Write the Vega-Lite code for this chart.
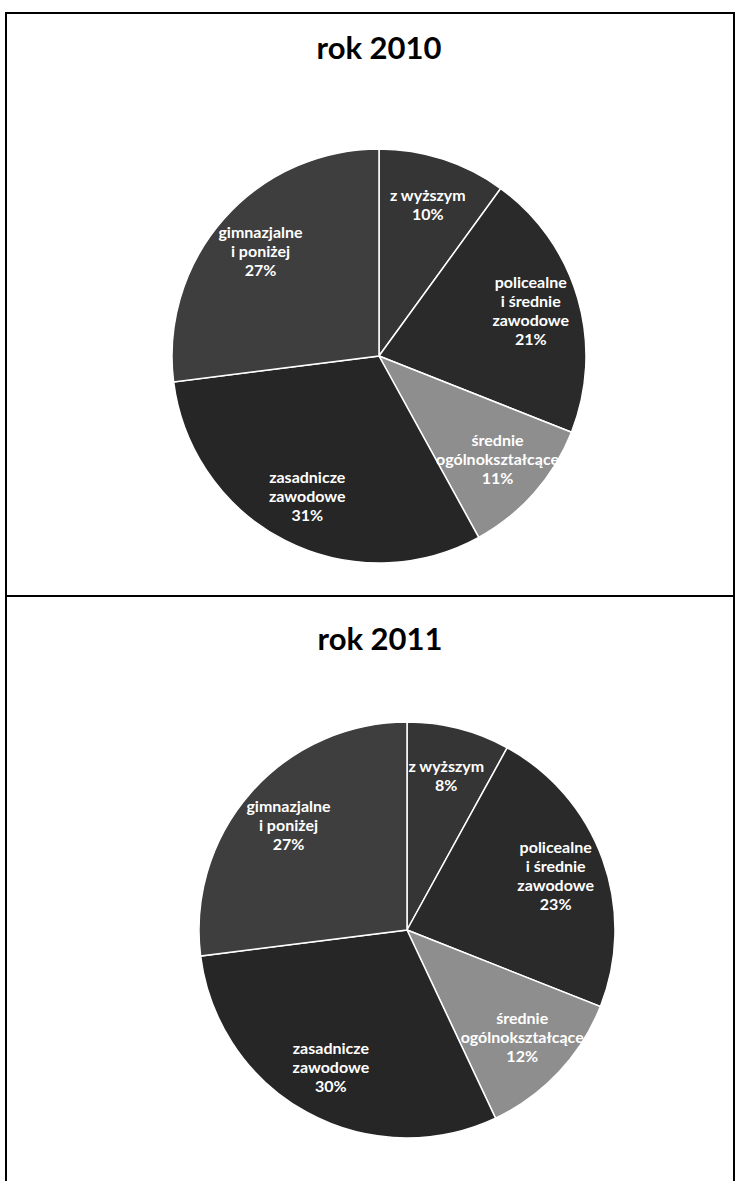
{
  "$schema": "https://vega.github.io/schema/vega-lite/v6.json",
  "padding": {"left": 5, "top": 12, "right": 3, "bottom": 0},
  "background": "white",
  "spacing": 0,
  "bounds": "flush",
  "datasets": {
    "d2010": [
      {"rank": 1, "category": "z wyższym", "share": 10, "label": "z wyższym\n10%"},
      {"rank": 2, "category": "policealne i średnie zawodowe", "share": 21, "label": "policealne\ni średnie\nzawodowe\n21%"},
      {"rank": 3, "category": "średnie ogólnokształcące", "share": 11, "label": "średnie\nogólnokształcące\n11%"},
      {"rank": 4, "category": "zasadnicze zawodowe", "share": 31, "label": "zasadnicze\nzawodowe\n31%"},
      {"rank": 5, "category": "gimnazjalne i poniżej", "share": 27, "label": "gimnazjalne\ni poniżej\n27%"}
    ],
    "d2011": [
      {"rank": 1, "category": "z wyższym", "share": 8, "label": "z wyższym\n8%"},
      {"rank": 2, "category": "policealne i średnie zawodowe", "share": 23, "label": "policealne\ni średnie\nzawodowe\n23%"},
      {"rank": 3, "category": "średnie ogólnokształcące", "share": 12, "label": "średnie\nogólnokształcące\n12%"},
      {"rank": 4, "category": "zasadnicze zawodowe", "share": 30, "label": "zasadnicze\nzawodowe\n30%"},
      {"rank": 5, "category": "gimnazjalne i poniżej", "share": 27, "label": "gimnazjalne\ni poniżej\n27%"}
    ]
  },
  "vconcat": [
    {
      "width": 728,
      "height": 583,
      "title": {"text": "rok 2010", "offset": -53, "dx": 9, "anchor": "middle", "font": "Lato", "fontSize": 31, "fontWeight": "bold", "color": "#000"},
      "data": {"name": "d2010"},
      "layer": [
        {"mark": {"type": "point", "opacity": 0},
         "encoding": {"x": {"field": "rank", "type": "quantitative", "axis": null}, "y": {"field": "share", "type": "quantitative", "axis": null}}},
        {"mark": {"type": "arc", "outerRadius": 207, "x": 373, "y": 343, "stroke": "white", "strokeWidth": 1.5},
         "encoding": {
           "theta": {"field": "share", "type": "quantitative", "stack": true},
           "order": {"field": "rank", "type": "quantitative"},
           "color": {"field": "category", "type": "nominal", "legend": null,
             "scale": {"domain": ["z wyższym", "policealne i średnie zawodowe", "średnie ogólnokształcące", "zasadnicze zawodowe", "gimnazjalne i poniżej"],
                       "range": ["#353535", "#2a2a2a", "#8e8e8e", "#262626", "#3e3e3e"]}}
         }},
        {"mark": {"type": "text", "radius": 158, "x": 373, "y": 343, "baseline": "middle", "dy": {"expr": "-(split(datum.label, '\\n').length - 1) * 9.5"}, "lineBreak": "\n", "font": "Lato", "fontSize": 16, "fontWeight": "bold", "lineHeight": 19, "fill": "white"},
         "encoding": {
           "theta": {"field": "share", "type": "quantitative", "stack": true},
           "order": {"field": "rank", "type": "quantitative"},
           "text": {"field": "label", "type": "nominal"}
         }}
      ]
    },
    {
      "width": 728,
      "height": 590,
      "title": {"text": "rok 2011", "offset": -64, "dx": 10, "anchor": "middle", "font": "Lato", "fontSize": 31, "fontWeight": "bold", "color": "#000"},
      "data": {"name": "d2011"},
      "layer": [
        {"mark": {"type": "point", "opacity": 0},
         "encoding": {"x": {"field": "rank", "type": "quantitative", "axis": null}, "y": {"field": "share", "type": "quantitative", "axis": null}}},
        {"mark": {"type": "arc", "outerRadius": 208, "x": 401, "y": 334, "stroke": "white", "strokeWidth": 1.5},
         "encoding": {
           "theta": {"field": "share", "type": "quantitative", "stack": true},
           "order": {"field": "rank", "type": "quantitative"},
           "color": {"field": "category", "type": "nominal", "legend": null,
             "scale": {"domain": ["z wyższym", "policealne i średnie zawodowe", "średnie ogólnokształcące", "zasadnicze zawodowe", "gimnazjalne i poniżej"],
                       "range": ["#353535", "#2a2a2a", "#8e8e8e", "#262626", "#454545"]}}
         }},
        {"mark": {"type": "text", "radius": 158, "x": 401, "y": 334, "baseline": "middle", "dy": {"expr": "-(split(datum.label, '\\n').length - 1) * 9.5"}, "lineBreak": "\n", "font": "Lato", "fontSize": 16, "fontWeight": "bold", "lineHeight": 19, "fill": "white"},
         "encoding": {
           "theta": {"field": "share", "type": "quantitative", "stack": true},
           "order": {"field": "rank", "type": "quantitative"},
           "text": {"field": "label", "type": "nominal"}
         }}
      ]
    }
  ],
  "config": {
    "view": {"stroke": "#000", "strokeWidth": 2}
  }
}
